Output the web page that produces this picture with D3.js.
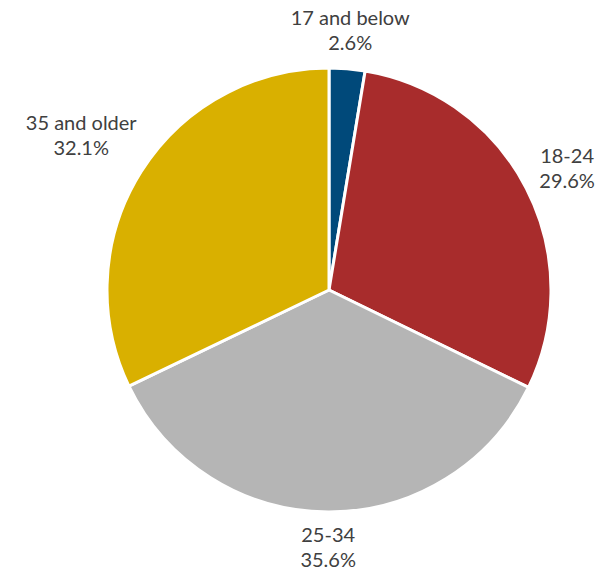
<!DOCTYPE html>
<html>
<head>
<meta charset="utf-8">
<script src="https://cdn.jsdelivr.net/npm/d3@7"></script>
<style>
  html, body { margin: 0; padding: 0; background: #fff; }
  svg { display: block; }
</style>
</head>
<body>
<svg id="chart" width="602" height="569"></svg>
<script>
// Age groups and their share of the total (percent)
const categories = ["17 and below", "18-24", "25-34", "35 and older"];
const shares = [2.6, 29.6, 35.6, 32.1];
const sliceColors = ["#00497A", "#A82C2C", "#B5B5B5", "#D9B000"];

const width = 602, height = 569;
const cx = 329, cy = 290, radius = 222;

const svg = d3.select("#chart");
const g = svg.append("g").attr("transform", `translate(${cx},${cy})`);

const pie = d3.pie().sort(null).value(d => d.value);
const arcs = pie(categories.map((c, i) => ({ name: c, value: shares[i] })));

const arc = d3.arc().innerRadius(0).outerRadius(radius);
const color = d3.scaleOrdinal().domain(categories).range(sliceColors);

g.selectAll("path.slice")
  .data(arcs)
  .join("path")
  .attr("class", "slice")
  .attr("d", arc)
  .attr("fill", d => color(d.data.name))
  .attr("stroke", "#fff")
  .attr("stroke-width", 3)
  .attr("stroke-linejoin", "round");

// Two-line labels outside each slice, pushed out so the text box clears the rim
const fmt = d3.format(".1f");
const lineGap = 25;
const pad = 10;

const labels = g.selectAll("text.label")
  .data(arcs)
  .join("text")
  .attr("class", "label")
  .attr("text-anchor", "middle")
  .attr("font-family", "Lato, 'Open Sans', sans-serif")
  .attr("font-size", 20)
  .attr("fill", "#404040");

labels.append("tspan").attr("x", 0).attr("dy", 0).text(d => d.data.name);
labels.append("tspan").attr("x", 0).attr("dy", lineGap).text(d => fmt(d.data.value) + "%");

labels.each(function(d) {
  const el = d3.select(this);
  const box = this.getBBox();
  const a = (d.startAngle + d.endAngle) / 2;
  const ux = Math.sin(a), uy = -Math.cos(a);
  const ext = (box.width / 2) * Math.abs(ux) + (box.height / 2) * Math.abs(uy);
  const dist = radius + pad + ext;
  const px = dist * ux, py = dist * uy;
  // shift so the box centre sits at (px, py)
  const bx = box.x + box.width / 2, by = box.y + box.height / 2;
  el.attr("transform", `translate(${px - bx},${py - by})`);
});
</script>
</body>
</html>
